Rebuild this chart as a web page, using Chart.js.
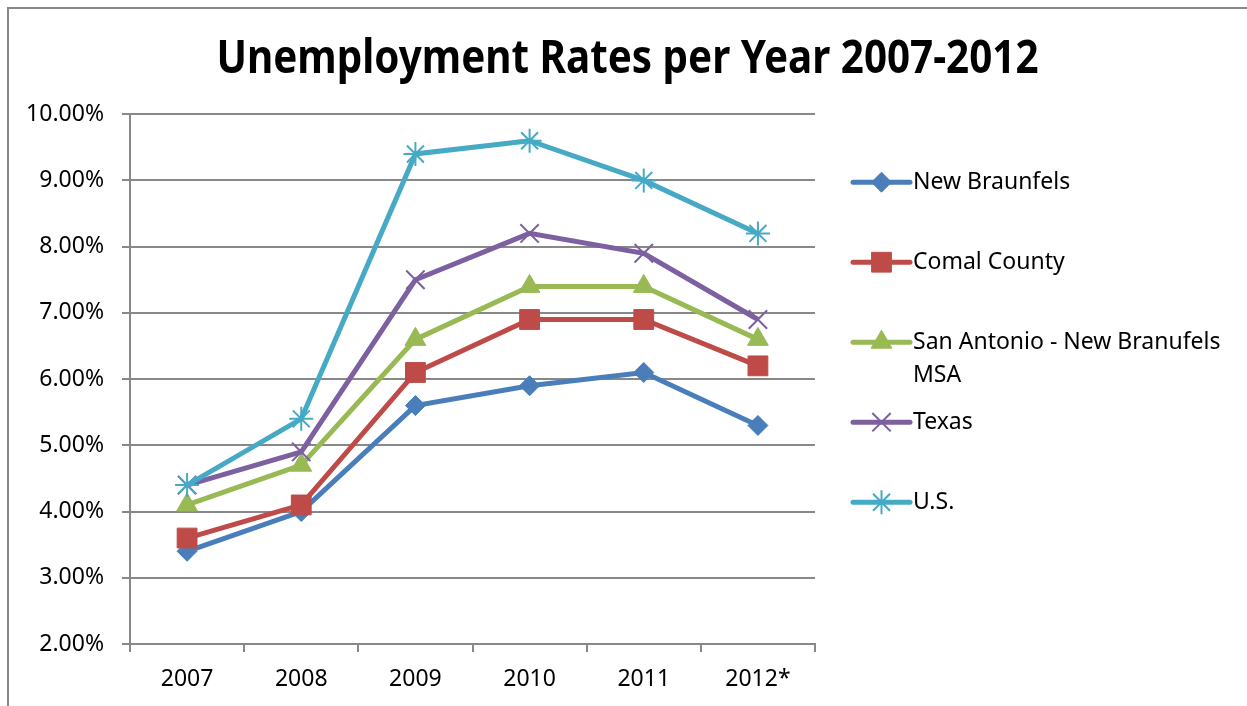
<!DOCTYPE html>
<html>
<head>
<meta charset="utf-8">
<title>Unemployment Rates per Year 2007-2012</title>
<script src="https://cdn.jsdelivr.net/npm/chart.js@4.4.1/dist/chart.umd.min.js"></script>
<style>
    html, body { margin: 0; padding: 0; background: #fff; }
    #wrap { width: 1247px; height: 706px; }
</style>
</head>
<body>
<div id="wrap"><canvas id="chart-unemployment" width="1247" height="706"></canvas></div>
<script>
// Data (percent)
const years = ['2007', '2008', '2009', '2010', '2011', '2012*']
const new_braunfels = [3.4, 4.0, 5.6, 5.9, 6.1, 5.3]
const comal_county = [3.6, 4.1, 6.1, 6.9, 6.9, 6.2]
const san_antonio_msa = [4.1, 4.7, 6.6, 7.4, 7.4, 6.6]
const texas = [4.4, 4.9, 7.5, 8.2, 7.9, 6.9]
const us = [4.4, 5.4, 9.4, 9.6, 9.0, 8.2]
const series_names = ['New Braunfels', 'Comal County', 'San Antonio - New Branufels MSA', 'Texas', 'U.S.']
const y_min = 2
const y_max = 10
const y_step = 1

// Color settings
const color_nb = '#4A7EBB'
const color_comal = '#BE4B48'
const color_msa = '#98B954'
const color_texas = '#7D60A0'
const color_us = '#46AAC5'
const color_grid = '#888888'

const font_family = '"Noto Sans", "Open Sans", sans-serif'
const frame_inset = 8
const title_width = 822 // title text is squeezed into this width

// one line series; later series are drawn on top
function make_dataset(index, values, color, style, radius, border) {
    return {
        label: series_names[index],
        data: values,
        borderColor: color,
        backgroundColor: color,
        borderWidth: 5,
        tension: 0,
        pointStyle: style,
        pointRadius: radius,
        pointHoverRadius: radius,
        pointBorderWidth: border,
        pointBorderColor: color,
        pointBackgroundColor: color,
        order: series_names.length - index,
    }
}

const data = {
    labels: years,
    datasets: [
        make_dataset(0, new_braunfels, color_nb, 'rectRot', 10, 1),
        make_dataset(1, comal_county, color_comal, 'rect', 14, 1),
        make_dataset(2, san_antonio_msa, color_msa, 'triangle', 12, 1),
        make_dataset(3, texas, color_texas, 'crossRot', 13, 2),
        make_dataset(4, us, color_us, 'star', 12, 2),
    ]
}

// partial frame round the chart + center the title over the whole frame
const framePlugin = {
    id: 'frame',
    afterLayout(chart) {
        const t = chart.titleBlock
        if (t) {
            const mid = (frame_inset + chart.width) / 2
            t.left = mid - title_width / 2
            t.right = mid + title_width / 2
            t.width = title_width
        }
    },
    beforeDraw(chart) {
        const ctx = chart.ctx
        ctx.save()
        ctx.fillStyle = '#fff'
        ctx.fillRect(0, 0, chart.width, chart.height)
        ctx.strokeStyle = color_grid
        ctx.lineWidth = 2
        ctx.beginPath()
        ctx.moveTo(frame_inset, chart.height)
        ctx.lineTo(frame_inset, frame_inset)
        ctx.lineTo(chart.width, frame_inset)
        ctx.stroke()
        ctx.restore()
    }
}

// legend on the right: line sample with marker, then the label (wrapped)
const sideLegendPlugin = {
    id: 'sideLegend',
    afterDraw(chart) {
        const ctx = chart.ctx
        const area = chart.chartArea
        const line_x0 = area.right + 38
        const line_x1 = line_x0 + 57
        const text_x = line_x1 + 3
        const max_w = chart.width - text_x - 8
        let y = area.top + 68
        ctx.save()
        ctx.font = '23px ' + font_family
        ctx.textBaseline = 'middle'
        chart.data.datasets.forEach(function (ds) {
            ctx.strokeStyle = ds.borderColor
            ctx.fillStyle = ds.borderColor
            ctx.lineWidth = 5
            ctx.lineCap = 'round'
            ctx.beginPath()
            ctx.moveTo(line_x0, y)
            ctx.lineTo(line_x1, y)
            ctx.stroke()
            ctx.lineCap = 'butt'
            ctx.lineWidth = ds.pointBorderWidth
            Chart.helpers.drawPoint(ctx, {
                pointStyle: ds.pointStyle,
                radius: ds.pointRadius,
                rotation: 0,
                borderWidth: ds.pointBorderWidth,
            }, (line_x0 + line_x1) / 2, y)

            // word wrap
            const words = ds.label.split(' ')
            const lines = []
            let cur = ''
            words.forEach(function (w) {
                const test = cur ? cur + ' ' + w : w
                if (ctx.measureText(test).width > max_w && cur) {
                    lines.push(cur)
                    cur = w
                } else {
                    cur = test
                }
            })
            lines.push(cur)
            ctx.fillStyle = '#000'
            lines.forEach(function (ln, k) {
                ctx.fillText(ln, text_x, y + k * 33)
            })
            y += 80
        })
        ctx.restore()
    }
}

const config = {
    type: 'line',
    data: data,
    options: {
        responsive: false,
        animation: false,
        devicePixelRatio: 1,
        layout: {
            padding: { left: 12, right: 432, top: 0, bottom: 0 },
        },
        plugins: {
            legend: { display: false },
            tooltip: { enabled: false },
            title: {
                display: true,
                text: 'Unemployment Rates per Year 2007-2012',
                color: '#000',
                font: { family: font_family, size: 46, weight: 'bold', lineHeight: 1.2 },
                padding: { top: 32, bottom: 27 },
            },
        },
        scales: {
            x: {
                offset: true,
                grid: {
                    offset: true,
                    drawOnChartArea: false,
                    drawTicks: true,
                    tickLength: 8,
                    color: color_grid,
                    lineWidth: 2,
                },
                border: { color: color_grid, width: 2 },
                ticks: {
                    color: '#000',
                    padding: 14,
                    font: { family: font_family, size: 23 },
                },
                afterFit: function (scale) { scale.height = 62 },
            },
            y: {
                min: y_min,
                max: y_max,
                grid: {
                    color: color_grid,
                    lineWidth: 2,
                    tickLength: 8,
                },
                border: { color: color_grid, width: 2 },
                ticks: {
                    stepSize: y_step,
                    color: '#000',
                    padding: 18,
                    font: { family: font_family, size: 23 },
                    callback: function (value) { return value.toFixed(2) + '%' },
                },
                afterFit: function (scale) { scale.width = 118 },
            },
        },
    },
    plugins: [framePlugin, sideLegendPlugin],
}

const context = document.getElementById('chart-unemployment').getContext('2d')
const chart = new Chart(context, config)
</script>
</body>
</html>
